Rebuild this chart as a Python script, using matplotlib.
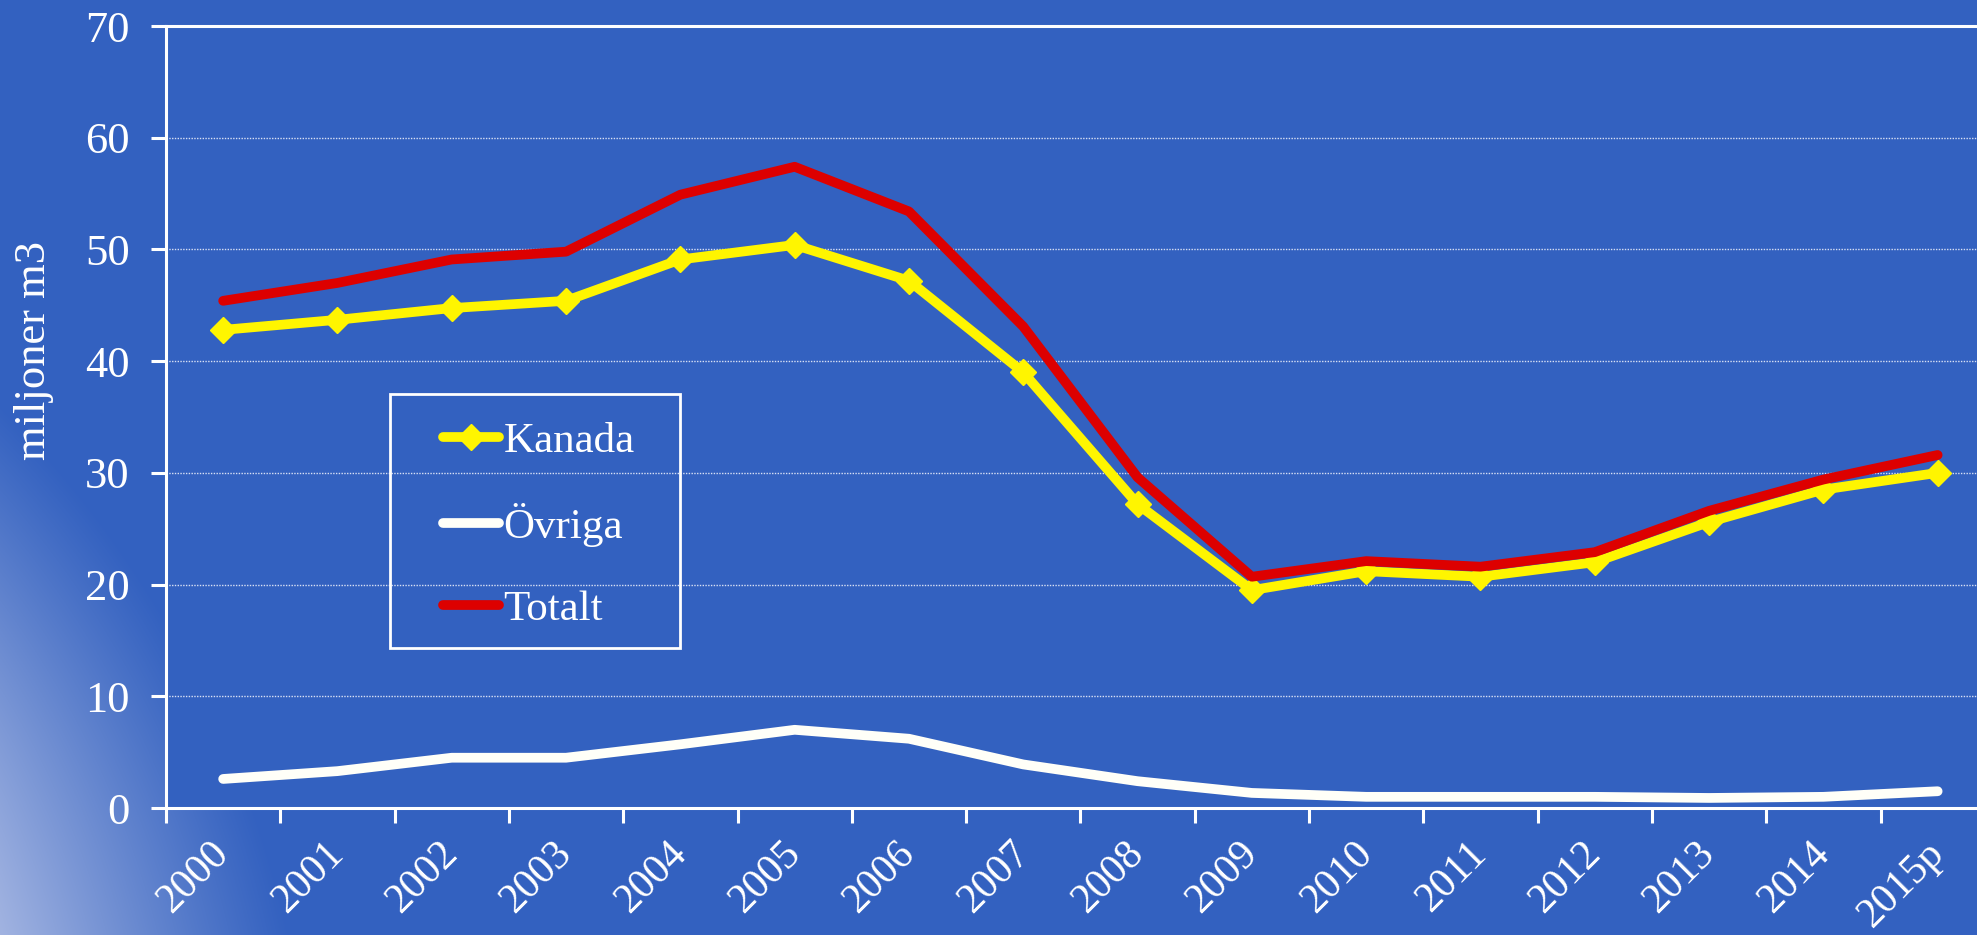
import numpy as np
import matplotlib
matplotlib.use('Agg')
import matplotlib.pyplot as plt
from matplotlib.patches import Rectangle

# values (miljoner m3)
years = ['2000', '2001', '2002', '2003', '2004', '2005', '2006', '2007',
         '2008', '2009', '2010', '2011', '2012', '2013', '2014', '2015p']
kanada = [42.8, 43.7, 44.75, 45.4, 49.1, 50.4, 47.2, 39.0,
          27.2, 19.5, 21.2, 20.7, 22.0, 25.6, 28.5, 30.0]
ovriga = [2.6, 3.3, 4.5, 4.5, 5.7, 7.0, 6.2, 3.9,
          2.4, 1.35, 1.0, 1.0, 1.0, 0.9, 1.0, 1.5]
totalt = [45.4, 47.0, 49.1, 49.8, 54.9, 57.4, 53.4, 43.1,
          29.6, 20.7, 22.1, 21.6, 22.9, 26.6, 29.4, 31.6]
yticks = [0, 10, 20, 30, 40, 50, 60, 70]

BLUE = '#3361C0'
YELLOW = '#FFF500'
RED = '#DD0000'
WHITE = '#FFFFF8'

plt.rcParams['font.family'] = ['Liberation Serif', 'DejaVu Serif']

W, H = 1977, 935
fig = plt.figure(figsize=(W / 100, H / 100), dpi=100)
fig.patch.set_facecolor(BLUE)

# light corner at the bottom left (arc of a big circle off the canvas)
bg = fig.add_axes([0, 0, 1, 1], zorder=0)
xx, yy = np.meshgrid(np.arange(W), np.arange(H))
dist = np.sqrt((xx + 760.0) ** 2 + (yy - 1163.0) ** 2)
t = np.clip((1075.0 - dist) / 290.0, 0, 1) ** 1.1
c0 = np.array([51, 97, 192]) / 255.0
c1 = np.array([165, 182, 226]) / 255.0
img = c0 + t[..., None] * (c1 - c0)
bg.imshow(img, extent=[0, W, H, 0], aspect='auto', interpolation='bilinear')
bg.axis('off')

# plot area
cat_w = 114.3
ax = fig.add_axes([166 / W, (H - 808) / H, len(years) * cat_w / W, (808 - 26) / H], zorder=1)
ax.set_facecolor(BLUE)
x = np.arange(len(years))

ln_k, = ax.plot(x, kanada, color=YELLOW, lw=7, marker='D', ms=13, mec=YELLOW,
                solid_capstyle='round', solid_joinstyle='round', zorder=3)
ln_o, = ax.plot(x, ovriga, color=WHITE, lw=7,
                solid_capstyle='round', solid_joinstyle='round', zorder=3)
ln_t, = ax.plot(x, totalt, color=RED, lw=7,
                solid_capstyle='round', solid_joinstyle='round', zorder=4)

ax.set_xlim(-0.5, len(years) - 0.5)
ax.set_ylim(0, 70)
ax.set_yticks(yticks)
ax.set_xticks(np.arange(-0.5, len(years), 1))
ax.set_xticklabels([])
# invisible minor ticks carry the rotated year labels
ax.set_xticks(x + 0.12, minor=True)
ax.set_xticklabels(years, minor=True, rotation=45, ha='right', va='top',
                   fontsize=30, color='white')
ax.tick_params(axis='x', which='major', direction='out', length=11, width=2.2, color='white')
ax.tick_params(axis='x', which='minor', length=0, pad=19)
ax.tick_params(axis='y', direction='out', length=11, width=2.2, color='white',
               labelcolor='white', labelsize=32, pad=15)

ax.yaxis.grid(True, linestyle=(0, (1, 1)), color='#D8E0F4', lw=1.0)
ax.set_axisbelow(True)
for side in ['left', 'bottom', 'top']:
    ax.spines[side].set_color('white')
    ax.spines[side].set_linewidth(2.2)
ax.spines['right'].set_visible(False)

fig.text(34 / W, 1 - 350 / H, 'miljoner m3', rotation=90, ha='center', va='center',
         fontsize=32, color='white')

# legend with its own frame
fig.add_artist(Rectangle((390 / W, (H - 648) / H), 290 / W, 254 / H, fill=False,
                         ec='white', lw=2, transform=fig.transFigure, zorder=5))
fig.legend([ln_k, ln_o, ln_t], ['Kanada', 'Övriga', 'Totalt'], loc='upper left',
           bbox_to_anchor=(443 / W, 1 - 422 / H), frameon=False, fontsize=31,
           handlelength=1.3, handletextpad=0.1, labelspacing=0.98,
           borderpad=0, borderaxespad=0, labelcolor='white')

plt.savefig('out.png', dpi=100, facecolor=fig.get_facecolor())
